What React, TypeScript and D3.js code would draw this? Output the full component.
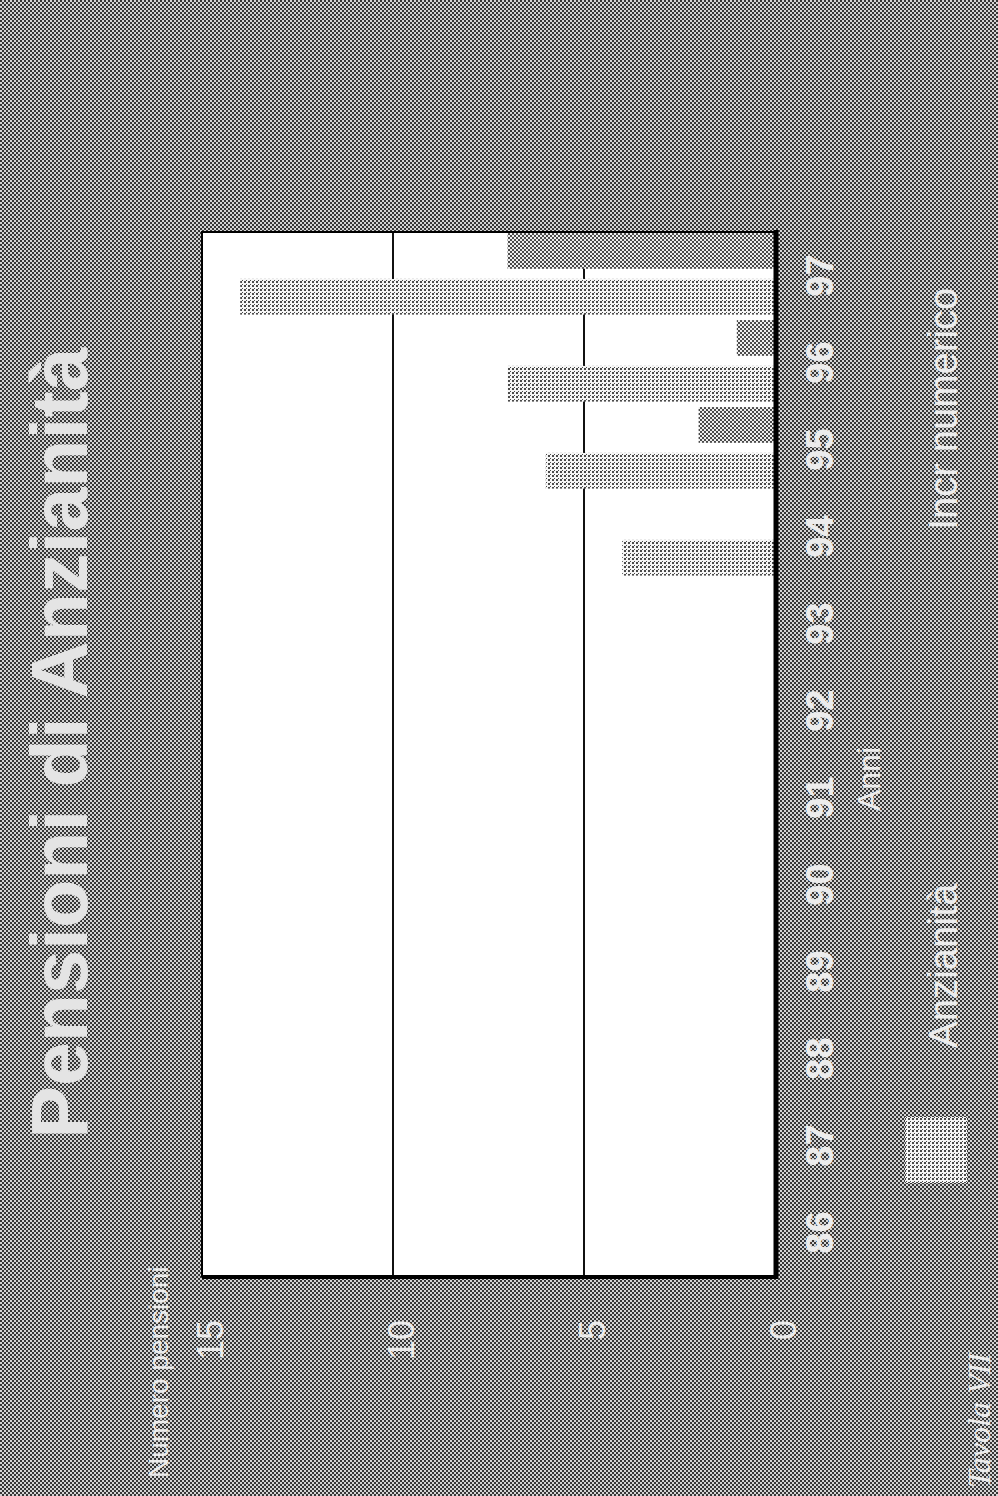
import React from "react";
import * as d3 from "d3";

// Years on the category axis and the two series plotted for each year
const years = ["86", "87", "88", "89", "90", "91", "92", "93", "94", "95", "96", "97"];
const anzianita = [0, 0, 0, 0, 0, 0, 0, 0, 4, 6, 7, 14];
const incrNumerico = [0, 0, 0, 0, 0, 0, 0, 0, 0, 2, 1, 7];
const seriesNames = ["Anzianità", "Incr numerico"];
const valueTicks = [0, 5, 10, 15];
const gridValues = [5, 10];

// The chart is laid out landscape and turned a quarter turn onto the portrait page
const PAGE_W = 998;
const PAGE_H = 1496;

const SANS = "'Liberation Sans', Arial, Helvetica, sans-serif";
const SERIF = "'Liberation Serif', 'Times New Roman', serif";

export default function App() {
  const x = d3.scaleBand<string>().domain(years).range([220, 1264]).padding(0);
  const sub = d3
    .scaleBand<string>()
    .domain(seriesNames)
    .range([0, x.bandwidth()])
    .paddingInner(0.22)
    .paddingOuter(0.06)
    .align(0.8);
  const y = d3.scaleLinear().domain([0, 15]).range([775, 202]);

  const plotL = x.range()[0];
  const plotR = x.range()[1];
  const plotT = y(15);
  const plotB = y(0);

  const rows = years.map((yr, i) => ({
    yr,
    values: [
      { name: seriesNames[0], value: anzianita[i], fill: "url(#pAnz)" },
      { name: seriesNames[1], value: incrNumerico[i], fill: "url(#pIncr)" },
    ],
  }));

  const light = "#ececec";

  return (
    <svg
      width={PAGE_W}
      height={PAGE_H}
      style={{ position: "absolute", left: 0, top: 0, display: "block" }}
      xmlns="http://www.w3.org/2000/svg"
    >
      <defs>
        <pattern id="pBg" width={4} height={4} patternUnits="userSpaceOnUse">
          <rect width={4} height={4} fill="#d4d4d4" />
          <rect x={0} y={0} width={2} height={2} fill="#363636" />
          <rect x={2} y={2} width={2} height={2} fill="#363636" />
        </pattern>
        <pattern id="pAnz" width={4} height={4} patternUnits="userSpaceOnUse">
          <rect width={4} height={4} fill="#f6f6f6" />
          <rect x={0} y={0} width={2} height={2} fill="#4a4a4a" />
          <rect x={2} y={2} width={1} height={1} fill="#4a4a4a" />
        </pattern>
        <pattern id="pIncr" width={4} height={4} patternUnits="userSpaceOnUse">
          <rect width={4} height={4} fill="#eeeeee" />
          <rect x={0} y={0} width={2} height={2} fill="#4a4a4a" />
          <rect x={2} y={2} width={2} height={2} fill="#4a4a4a" />
        </pattern>
      </defs>

      <rect x={0} y={0} width={PAGE_W} height={PAGE_H} fill="url(#pBg)" />

      <g transform={`translate(0,${PAGE_H}) rotate(-90)`}>
        {/* Title */}
        <text
          x={753}
          y={87}
          textAnchor="middle"
          fontFamily={SANS}
          fontWeight="bold"
          fontSize={79}
          fill="#e4e4e4"
        >
          Pensioni di Anzianità
        </text>

        {/* Value axis title */}
        <text x={18} y={168} fontFamily={SANS} fontSize={28} fill={light}>
          Numero pensioni
        </text>

        {/* Plot background */}
        <rect x={plotL} y={plotT} width={plotR - plotL} height={plotB - plotT} fill="#ffffff" />

        {/* Gridlines */}
        {gridValues.map((v) => (
          <line key={v} x1={plotL} x2={plotR} y1={y(v)} y2={y(v)} stroke="#111" strokeWidth={2} />
        ))}

        {/* Bars */}
        {rows.map((r) => (
          <g key={r.yr} transform={`translate(${x(r.yr)},0)`}>
            {r.values
              .filter((d) => d.value > 0)
              .map((d) => (
                <rect
                  key={d.name}
                  x={sub(d.name)}
                  y={y(d.value)}
                  width={sub.bandwidth()}
                  height={y(0) - y(d.value)}
                  fill={d.fill}
                />
              ))}
          </g>
        ))}

        {/* Plot frame, heavier along the base line and the start edge */}
        <rect
          x={plotL}
          y={plotT}
          width={plotR - plotL}
          height={plotB - plotT}
          fill="none"
          stroke="#000"
          strokeWidth={2}
        />
        <line x1={plotL - 2} x2={plotR + 2} y1={plotB + 1} y2={plotB + 1} stroke="#000" strokeWidth={5} />
        <line x1={plotL - 1} x2={plotL - 1} y1={plotT} y2={plotB + 3} stroke="#000" strokeWidth={4} />

        {/* Value labels */}
        {valueTicks.map((v) => (
          <text
            key={v}
            x={176}
            y={y(v) + 8}
            dy="0.35em"
            textAnchor="end"
            fontFamily={SANS}
            fontSize={36}
            fill={light}
          >
            {v}
          </text>
        ))}

        {/* Category labels */}
        {years.map((yr) => (
          <text
            key={yr}
            x={x(yr)! + x.bandwidth() / 2}
            y={833}
            textAnchor="middle"
            fontFamily={SANS}
            fontWeight="bold"
            fontSize={38}
            fill={light}
          >
            {yr}
          </text>
        ))}

        {/* Category axis title */}
        <text x={717} y={880} textAnchor="middle" fontFamily={SANS} fontSize={32} fill={light}>
          Anni
        </text>

        {/* Legend */}
        <rect x={313} y={905} width={66} height={62} fill="url(#pAnz)" />
        <text x={448} y={957} fontFamily={SANS} fontSize={40} fill={light}>
          {seriesNames[0]}
        </text>
        <text x={966} y={957} fontFamily={SANS} fontSize={40} fill={light}>
          {seriesNames[1]}
        </text>

        {/* Table reference */}
        <text x={8} y={990} fontFamily={SERIF} fontStyle="italic" fontSize={32} fill={light}>
          Tavola VII
        </text>
      </g>
    </svg>
  );
}
